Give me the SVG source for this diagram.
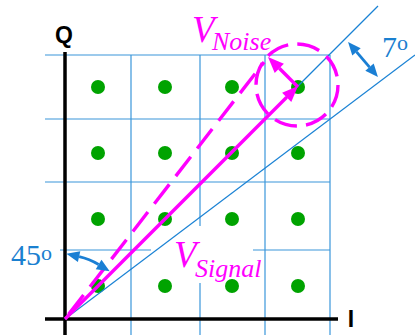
<svg xmlns="http://www.w3.org/2000/svg" width="415" height="335" viewBox="0 0 415 335">
<style>
.grid{stroke:#3a96da;stroke-width:1.2;fill:none}
.axis{stroke:#000;stroke-width:3.5;fill:none}
.ref{stroke:#1a82d4;stroke-width:1.2;fill:none}
.dot{fill:#00a300}
.pk{stroke:#ff00ff;stroke-width:3.4;fill:none}
.bl{stroke:#1a7fd4;stroke-width:2.8;fill:none}
.ax{font-family:"Liberation Sans",Arial,sans-serif;font-weight:bold;font-size:23px;fill:#000}
.ang{font-family:"Liberation Serif","Times New Roman",serif;font-size:30px;fill:#1a80d0}
.vl{font-family:"Liberation Serif","Times New Roman",serif;font-style:italic;fill:#ff00ff}
</style>
<defs>
<marker id="pkh" markerUnits="userSpaceOnUse" markerWidth="16" markerHeight="13" refX="0" refY="6.5" orient="auto" overflow="visible">
<path d="M0,0 L16,6.5 L0,13 z" fill="#ff00ff"/>
</marker>
<marker id="blh" markerUnits="userSpaceOnUse" markerWidth="13" markerHeight="11" refX="0" refY="5.5" orient="auto-start-reverse" overflow="visible">
<path d="M0,0 L13,5.5 L0,11 z" fill="#1a7fd4"/>
</marker>
</defs>
<rect width="415" height="335" fill="#fff"/>
<g id="grid">
<line class="grid" x1="45" y1="55" x2="330" y2="55"/>
<line class="grid" x1="45" y1="119" x2="330" y2="119"/>
<line class="grid" x1="45" y1="182" x2="330" y2="182"/>
<line class="grid" x1="60" y1="250" x2="151" y2="250"/>
<line class="grid" x1="253" y1="250" x2="330" y2="250"/>
<line class="grid" x1="131" y1="55" x2="131" y2="335"/>
<line class="grid" x1="200" y1="55" x2="200" y2="226"/>
<line class="grid" x1="200" y1="283" x2="200" y2="335"/>
<line class="grid" x1="265" y1="55" x2="265" y2="335"/>
<line class="grid" x1="330" y1="55" x2="330" y2="335"/>
</g>
<g id="axes">
<line class="axis" x1="65" y1="52" x2="65" y2="335"/>
<line class="axis" x1="45" y1="319" x2="338" y2="319"/>
<text class="ax" x="64" y="43" text-anchor="middle">Q</text>
<text class="ax" x="351" y="327" text-anchor="middle">I</text>
</g>
<g id="constellation">
<circle class="dot" cx="98" cy="87" r="7"/>
<circle class="dot" cx="165" cy="87" r="7"/>
<circle class="dot" cx="232" cy="87" r="7"/>
<circle class="dot" cx="298" cy="87" r="7"/>
<circle class="dot" cx="98" cy="153" r="7"/>
<circle class="dot" cx="165" cy="153" r="7"/>
<circle class="dot" cx="232" cy="153" r="7"/>
<circle class="dot" cx="298" cy="153" r="7"/>
<circle class="dot" cx="98" cy="219" r="7"/>
<circle class="dot" cx="165" cy="219" r="7"/>
<circle class="dot" cx="232" cy="219" r="7"/>
<circle class="dot" cx="298" cy="219" r="7"/>
<circle class="dot" cx="98" cy="286" r="7"/>
<circle class="dot" cx="165" cy="286" r="7"/>
<circle class="dot" cx="232" cy="286" r="7"/>
<circle class="dot" cx="298" cy="286" r="7"/>
</g>
<g id="connectors">
<line class="ref" x1="65" y1="319" x2="378" y2="6"/>
<line class="ref" x1="65" y1="319" x2="415" y2="55"/>
<line class="pk" x1="65" y1="319" x2="264.1" y2="62.1" stroke-dasharray="24.5 10.5" stroke-dashoffset="29.2"/>
<line class="pk" x1="65" y1="319" x2="286.7" y2="97.3" marker-end="url(#pkh)"/>
<line class="pk" x1="298" y1="87" x2="279.3" y2="68.3" marker-end="url(#pkh)"/>
<circle class="pk" cx="297" cy="85" r="41" stroke-width="3" stroke-dasharray="23 9.2"/>
<path class="bl" d="M79.1,256.6 A64,64 0 0 1 98.6,264.5" marker-start="url(#blh)" marker-end="url(#blh)"/>
<line class="bl" x1="356.5" y1="51.9" x2="369.5" y2="67.1" marker-start="url(#blh)" marker-end="url(#blh)"/>
</g>
<g id="labels">
<text class="ang" x="11" y="265">45<tspan font-size="22" dy="-5">o</tspan></text>
<text class="ang" x="382" y="57">7<tspan font-size="22" dy="-7">o</tspan></text>
<text class="vl" x="192" y="42" font-size="37">V<tspan font-size="26" x="212" y="50">Noise</tspan></text>
<text class="vl" x="174" y="267" font-size="37">V<tspan font-size="26" x="195" y="277">Signal</tspan></text>
</g>
</svg>
